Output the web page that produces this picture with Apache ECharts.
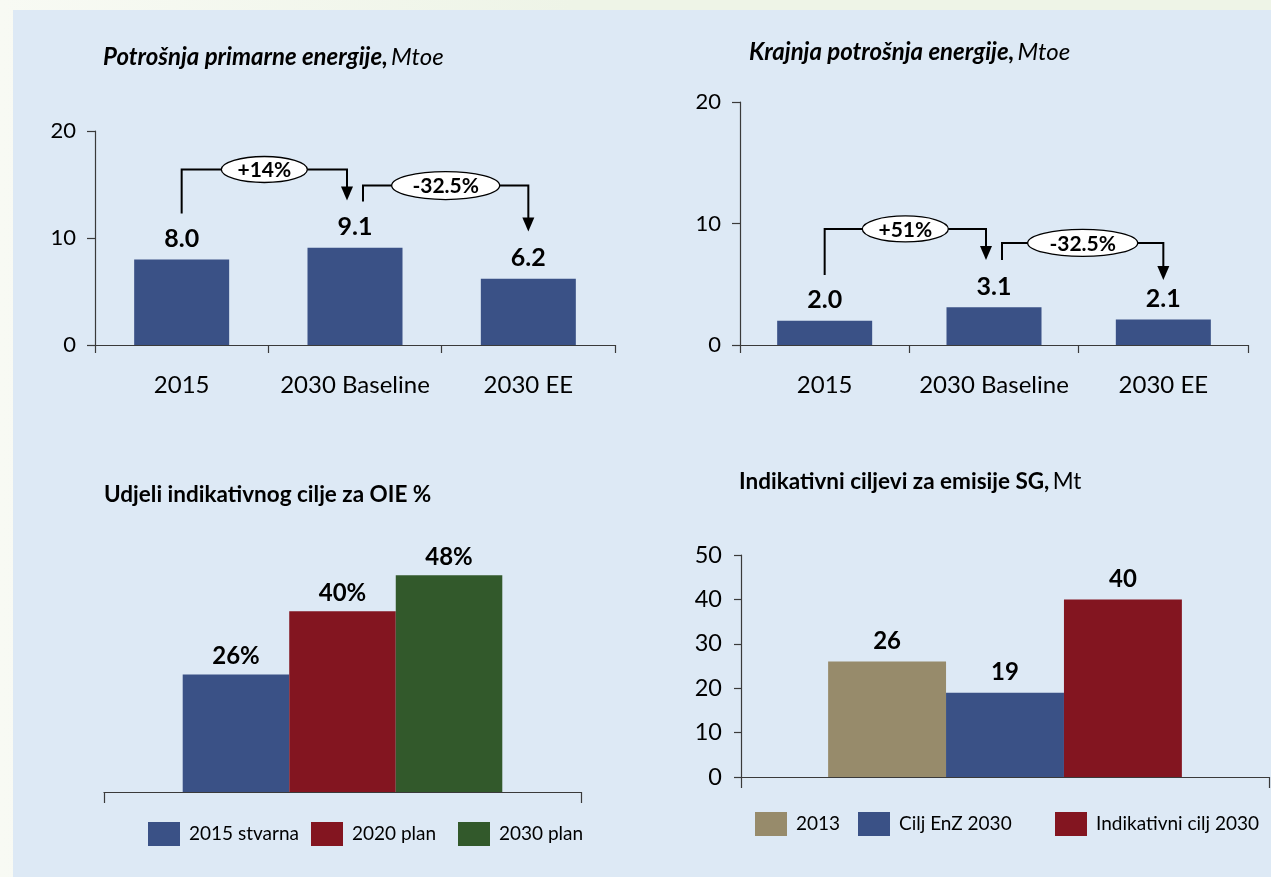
<!DOCTYPE html>
<html>
<head>
<meta charset="utf-8">
<script src="https://cdn.jsdelivr.net/npm/echarts@6/dist/echarts.min.js"></script>
<style>
  html, body { margin: 0; padding: 0; width: 1271px; height: 877px; overflow: hidden;
    background: linear-gradient(90deg, #f8faf4 0%, #eef4e7 45%, #eef4e7 100%); }
  #panel { position: absolute; left: 13px; top: 10px; right: 0; bottom: 0; background: #dde9f5; }
  #chart { position: absolute; left: 0; top: 0; width: 1271px; height: 877px; }
</style>
</head>
<body>
<div id="panel"></div>
<div id="chart"></div>
<script>
// ---------- data ----------
const energyCategories = ['2015', '2030 Baseline', '2030 EE'];
const primaryEnergy = [8.0, 9.1, 6.2];
const finalEnergy = [2.0, 3.1, 2.1];
const energyAxisTicks = [0, 10, 20];

const primaryChanges = [
  { from: 0, to: 1, text: '+14%' },
  { from: 1, to: 2, text: '-32.5%' }
];
const finalChanges = [
  { from: 0, to: 1, text: '+51%' },
  { from: 1, to: 2, text: '-32.5%' }
];

const oieNames = ['2015 stvarna', '2020 plan', '2030 plan'];
const oieValues = [26, 40, 48];

const ghgNames = ['2013', 'Cilj EnZ 2030', 'Indikativni cilj 2030'];
const ghgValues = [26, 19, 40];
const ghgAxisTicks = [0, 10, 20, 30, 40, 50];

const titles = [
  { bold: 'Potrošnja primarne energije,', unit: 'Mtoe', italic: true },
  { bold: 'Krajnja potrošnja energije,', unit: 'Mtoe', italic: true },
  { bold: 'Udjeli indikativnog cilje za OIE %', unit: '', italic: false },
  { bold: 'Indikativni ciljevi za emisije SG,', unit: 'Mt', italic: false }
];

// ---------- styles ----------
const FONT = 'Lato';
const AXIS_COLOR = '#3a3a3a';
const oieColors = ['#3a5186', '#831520', '#32592b'];
const ghgColors = ['#978b6b', '#3a5186', '#831520'];
const energyColor = '#3a5186';
const titlePos = [[103, 57], [749, 52], [104, 495], [739, 482]];
const titleSizes = [24, 24, 22.5, 22.5];

// bracket layout (in value units of each chart) - styling only
const bracketLayout = {
  primary: [
    { base: 12.3, top: 16.4, tip: 13.5, rx: 43, ry: 13 },
    { base: 13.4, top: 14.9, tip: 10.6, rx: 54, ry: 14 }
  ],
  final: [
    { base: 5.76, top: 9.55, tip: 7.0, rx: 43, ry: 13 },
    { base: 7.0, top: 8.4, tip: 5.35, rx: 55, ry: 13.5 }
  ]
};

const chart = echarts.init(document.getElementById('chart'), null, { renderer: 'canvas' });

const axisLine = { show: true, lineStyle: { color: AXIS_COLOR, width: 1.2 } };
const axisTick = { show: true, length: 8, lineStyle: { color: AXIS_COLOR, width: 1.2 } };

function energyX(gridIndex) {
  return {
    type: 'category', gridIndex: gridIndex, data: energyCategories,
    axisLine: axisLine, axisTick: Object.assign({}, axisTick, { length: 8 }),
    axisLabel: { interval: 0, fontFamily: FONT, fontSize: 24, color: '#000', margin: 28 }
  };
}
function energyY(gridIndex) {
  return {
    type: 'value', gridIndex: gridIndex,
    min: energyAxisTicks[0], max: energyAxisTicks[energyAxisTicks.length - 1],
    interval: energyAxisTicks[1] - energyAxisTicks[0],
    splitLine: { show: false },
    axisLine: axisLine, axisTick: axisTick,
    axisLabel: { fontFamily: FONT, fontSize: 22, color: '#000', margin: 19 }
  };
}
function singleX(gridIndex) {
  return {
    type: 'category', gridIndex: gridIndex, data: [''],
    axisLine: axisLine, axisTick: Object.assign({}, axisTick, { length: 11 }),
    axisLabel: { show: false }
  };
}

const valueLabel = (fmt, dist, size) => ({
  show: true, position: 'top', distance: dist,
  fontFamily: FONT, fontSize: size, fontWeight: 'bold', color: '#000',
  formatter: fmt
});

const series = [
  {
    name: 'Potrošnja primarne energije', type: 'bar', xAxisIndex: 0, yAxisIndex: 0,
    data: primaryEnergy, barWidth: 95, itemStyle: { color: energyColor },
    label: valueLabel(p => p.value.toFixed(1), 8, 25)
  },
  {
    name: 'Krajnja potrošnja energije', type: 'bar', xAxisIndex: 1, yAxisIndex: 1,
    data: finalEnergy, barWidth: 95, itemStyle: { color: energyColor },
    label: valueLabel(p => p.value.toFixed(1), 8, 25)
  }
];
oieNames.forEach((n, i) => series.push({
  name: n, type: 'bar', xAxisIndex: 2, yAxisIndex: 2, data: [oieValues[i]],
  barGap: '0%', barCategoryGap: '33%', itemStyle: { color: oieColors[i] },
  label: valueLabel(p => p.value + '%', 6, 24)
}));
ghgNames.forEach((n, i) => series.push({
  name: n, type: 'bar', xAxisIndex: 3, yAxisIndex: 3, data: [ghgValues[i]],
  barGap: '0%', barCategoryGap: '33%', itemStyle: { color: ghgColors[i] },
  label: valueLabel(p => String(p.value), 8, 24)
}));

function legendItem(name, color, left, top) {
  return {
    data: [{ name: name, icon: 'rect', itemStyle: { color: color } }],
    left: left, top: top, padding: 0, itemWidth: 32, itemHeight: 24, selectedMode: false,
    textStyle: { fontFamily: FONT, fontSize: 19, color: '#000', padding: [0, 0, 0, 4] }
  };
}

const option = {
  backgroundColor: 'transparent',
  animation: false,
  grid: [
    { left: 95, top: 131, width: 520, height: 214 },
    { left: 740, top: 102, width: 508, height: 243 },
    { left: 104, top: 521, width: 477, height: 271 },
    { left: 741, top: 555, width: 528, height: 222 }
  ],
  xAxis: [energyX(0), energyX(1), singleX(2), singleX(3)],
  yAxis: [
    energyY(0), energyY(1),
    { type: 'value', gridIndex: 2, min: 0, max: 60, show: false, splitLine: { show: false } },
    {
      type: 'value', gridIndex: 3, min: ghgAxisTicks[0], max: ghgAxisTicks[ghgAxisTicks.length - 1],
      interval: ghgAxisTicks[1] - ghgAxisTicks[0], splitLine: { show: false },
      axisLine: axisLine, axisTick: Object.assign({}, axisTick, { length: 7 }),
      axisLabel: { fontFamily: FONT, fontSize: 23.5, color: '#000', margin: 19 }
    }
  ],
  legend: [
    legendItem(oieNames[0], oieColors[0], 148, 822),
    legendItem(oieNames[1], oieColors[1], 311, 822),
    legendItem(oieNames[2], oieColors[2], 458, 822),
    legendItem(ghgNames[0], ghgColors[0], 755, 812),
    legendItem(ghgNames[1], ghgColors[1], 858, 812),
    legendItem(ghgNames[2], ghgColors[2], 1055, 812)
  ],
  series: series
};
chart.setOption(option);

// ---------- titles ----------
function titleEls() {
  return titles.map((t, i) => {
    const fs = titleSizes[i];
    const txt = '{b|' + t.bold + '}' + (t.unit ? ' {u|' + t.unit + '}' : '');
    return {
      type: 'text', z: 50, x: titlePos[i][0], y: titlePos[i][1],
      style: {
        text: txt, align: 'left', verticalAlign: 'middle',
        rich: {
          b: { fontFamily: FONT, fontSize: fs, fontWeight: 'bold', fontStyle: t.italic ? 'italic' : 'normal', fill: '#000' },
          u: { fontFamily: FONT, fontSize: fs, fontWeight: 'normal', fontStyle: t.italic ? 'italic' : 'normal', fill: '#000' }
        }
      }
    };
  });
}

// ---------- change brackets (positioned through the chart's own scales) ----------
function brackets(gridIndex, changes, layout) {
  const els = [];
  changes.forEach((c, k) => {
    const L = layout[k];
    const pFrom = chart.convertToPixel({ gridIndex: gridIndex }, [c.from, L.base]);
    const pTo = chart.convertToPixel({ gridIndex: gridIndex }, [c.to, L.tip]);
    const pTop = chart.convertToPixel({ gridIndex: gridIndex }, [c.from, L.top]);
    const x1 = pFrom[0] + (k > 0 ? 8 : 0);
    const x2 = pTo[0] - (k < changes.length - 1 ? 8 : 0);
    const yb = pFrom[1], yt = pTop[1], tip = pTo[1];
    const ah = 14, aw = 6;
    els.push({
      type: 'polyline', z: 100,
      shape: { points: [[x1, yb], [x1, yt], [x2, yt], [x2, tip - ah + 1]] },
      style: { stroke: '#000', lineWidth: 2, fill: null }
    });
    els.push({
      type: 'polygon', z: 100,
      shape: { points: [[x2 - aw, tip - ah], [x2 + aw, tip - ah], [x2, tip]] },
      style: { fill: '#000' }
    });
    const cx = (x1 + x2) / 2;
    els.push({
      type: 'ellipse', z: 101,
      shape: { cx: cx, cy: yt, rx: L.rx, ry: L.ry },
      style: { fill: '#fff', stroke: '#000', lineWidth: 1.3 }
    });
    els.push({
      type: 'text', z: 102, x: cx, y: yt + 1,
      style: { text: c.text, fontFamily: FONT, fontSize: 21, fontWeight: 'bold', fill: '#000',
               align: 'center', verticalAlign: 'middle' }
    });
  });
  return els;
}
chart.setOption({
  graphic: titleEls()
    .concat(brackets(0, primaryChanges, bracketLayout.primary))
    .concat(brackets(1, finalChanges, bracketLayout.final))
});
</script>
</body>
</html>
